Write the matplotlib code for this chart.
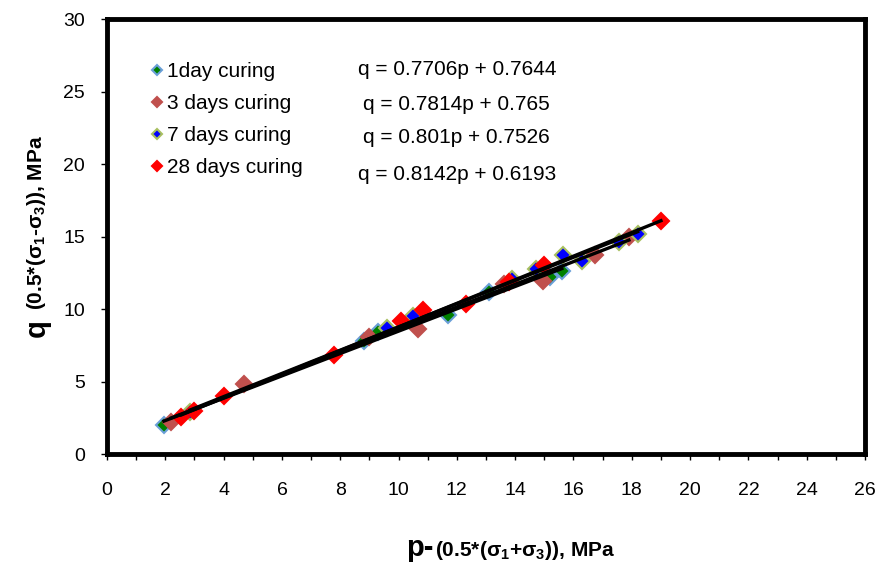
import matplotlib
matplotlib.use('Agg')
import matplotlib.pyplot as plt
import numpy as np

plt.rcParams['font.family'] = ['Liberation Sans', 'DejaVu Sans']
plt.rcParams['mathtext.fontset'] = 'custom'
plt.rcParams['mathtext.rm'] = 'Liberation Sans'
plt.rcParams['mathtext.bf'] = 'Liberation Sans:bold'

## data
p_1day = [1.95, 8.8, 9.3, 11.7, 13.1, 15.2, 15.6]
q_1day = [2.0, 7.8, 8.4, 9.6, 11.15, 12.2, 12.65]

p_3day = [2.2, 4.7, 9.0, 10.65, 13.6, 14.95, 16.75, 17.9]
q_3day = [2.2, 4.8, 8.1, 8.6, 11.7, 11.9, 13.7, 14.95]

p_7day = [2.85, 9.6, 10.5, 13.9, 14.7, 15.65, 16.3, 17.55, 18.2]
q_7day = [2.9, 8.7, 9.55, 12.1, 12.75, 13.7, 13.3, 14.6, 15.2]

p_28day = [2.55, 3.0, 4.0, 7.8, 10.1, 10.85, 12.3, 13.8, 15.0, 19.0]
q_28day = [2.55, 2.95, 4.0, 6.8, 9.2, 9.9, 10.35, 11.85, 13.05, 16.05]

labels = ['1day curing', '3 days curing', '7 days curing', '28 days curing']
slopes = [0.7706, 0.7814, 0.801, 0.8142]
intercepts = [0.7644, 0.765, 0.7526, 0.6193]
equations = ['q = 0.7706p + 0.7644', 'q = 0.7814p + 0.765',
             'q = 0.801p + 0.7526', 'q = 0.8142p + 0.6193']

series = [(p_1day, q_1day), (p_3day, q_3day), (p_7day, q_7day), (p_28day, q_28day)]
faces = ['#008000', '#C0504D', '#0000FF', '#FF0000']
edges = ['#6A9FD8', '#C0504D', '#A8C060', '#FF0000']

fig = plt.figure(figsize=(8.8, 5.69), dpi=100)
ax = fig.add_axes([0.1216, 0.2021, 0.8614, 0.7645])

for (p, q), lab, fc, ec in zip(series, labels, faces, edges):
    ax.plot(p, q, linestyle='none', marker='D', ms=8.5, mfc=fc, mec=ec,
            mew=1.5, label=lab, zorder=3)

# trend lines
for (p, q), m, b in zip(series, slopes, intercepts):
    xs = np.array([min(p), max(p)])
    ax.plot(xs, m * xs + b, color='black', lw=2.4, zorder=4)

ax.set_xlim(0, 26)
ax.set_ylim(0, 30)
ax.set_xticks(np.arange(0, 27, 2))
ax.set_xticks(np.arange(0, 27, 1), minor=True)
ax.set_yticks(np.arange(0, 31, 5))
ax.tick_params(axis='x', which='both', direction='out', length=4, width=1,
               labelsize=14, pad=16)
ax.tick_params(axis='y', direction='out', length=4, width=1,
               labelsize=14, pad=12)
for s in ax.spines.values():
    s.set_linewidth(3.5)

leg = ax.legend(loc='upper left', bbox_to_anchor=(0.05, 0.92), frameon=False,
                fontsize=15, markerscale=0.55, handlelength=0.4, handletextpad=0.25,
                labelspacing=0.62, borderaxespad=0)

eq_y = [26.55, 24.1, 21.8, 19.25]
for txt, y in zip(equations, eq_y):
    ax.text(12.0, y, txt, fontsize=15, ha='center', va='center')

# axis titles
fig.text(0.0415, 0.424, 'q', fontsize=21, fontweight='bold', rotation=90,
         ha='center', va='center')
fig.text(0.041, 0.455, r'(0.5*(σ$_{\mathbf{1}}$-σ$_{\mathbf{3}}$)), MPa',
         fontsize=15, fontweight='bold', rotation=90, ha='center', va='bottom')
fig.text(0.477, 0.022, 'p-', fontsize=21, fontweight='bold', ha='center',
         va='baseline')
fig.text(0.494, 0.022, r'(0.5*(σ$_{\mathbf{1}}$+σ$_{\mathbf{3}}$)), MPa',
         fontsize=15, fontweight='bold', ha='left', va='baseline')

plt.savefig('out.png', dpi=100)
plt.close()
